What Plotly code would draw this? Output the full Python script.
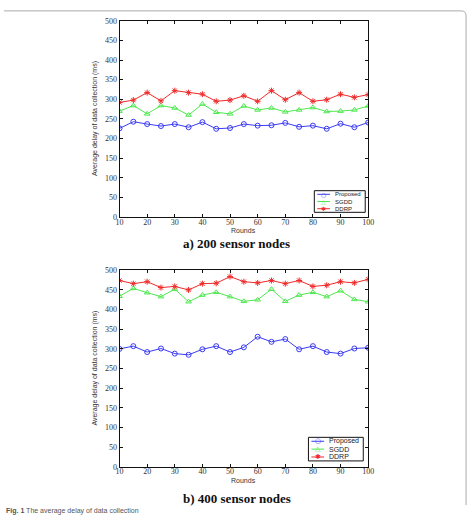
import plotly.graph_objects as go

rounds = [10, 15, 20, 25, 30, 35, 40, 45, 50, 55, 60, 65, 70, 75, 80, 85, 90, 95, 100]

# a) 200 sensor nodes
prop_200 = [226, 243, 237, 232, 237, 229, 242, 225, 227, 237, 233, 234, 240, 230, 233, 225, 238, 229, 241]
sgdd_200 = [270, 284, 263, 284, 278, 260, 288, 267, 263, 283, 273, 278, 268, 273, 279, 269, 270, 273, 283]
ddrp_200 = [292, 298, 317, 296, 322, 317, 313, 295, 298, 309, 295, 322, 299, 317, 295, 299, 313, 305, 312]

# b) 400 sensor nodes
prop_400 = [300, 307, 292, 301, 288, 285, 299, 307, 292, 304, 331, 318, 325, 299, 307, 292, 288, 301, 303]
sgdd_400 = [434, 454, 443, 433, 452, 420, 437, 444, 433, 421, 425, 452, 421, 437, 444, 433, 448, 426, 420]
ddrp_400 = [474, 466, 471, 456, 459, 450, 466, 467, 484, 471, 468, 474, 466, 474, 459, 462, 471, 468, 477]

series_names = ["Proposed", "SGDD", "DDRP"]
x_ticks = [10, 20, 30, 40, 50, 60, 70, 80, 90, 100]
y_ticks = [0, 50, 100, 150, 200, 250, 300, 350, 400, 450, 500]
captions = ["a) 200 sensor nodes", "b) 400 sensor nodes"]
y_title = "Average delay of data collection (ms)"
x_title = "Rounds"

W, H = 475, 518
BLUE = "#3b3bf5"
GREEN = "#4ee84e"
RED = "#f02a2a"
colors = [BLUE, GREEN, RED]
key_glyphs = ["○", "△", "✱"]

def px(x):
    return x / W

def py(y):
    return 1 - y / H

fig = go.Figure()

styles = [
    dict(symbol="circle-open", size=5),
    dict(symbol="triangle-up-open", size=5),
    dict(symbol="asterisk-open", size=5),
]

for data, xa, ya in [
    ([prop_200, sgdd_200, ddrp_200], "x", "y"),
    ([prop_400, sgdd_400, ddrp_400], "x2", "y2"),
]:
    for name, vals, st, c in zip(series_names, data, styles, colors):
        fig.add_trace(go.Scatter(
            x=rounds, y=vals, name=name, mode="lines+markers",
            xaxis=xa, yaxis=ya, showlegend=False,
            line=dict(color=c, width=1),
            marker=dict(symbol=st["symbol"], size=st["size"], color=c,
                        line=dict(color=c, width=1)),
        ))

tick_font = dict(family="Liberation Serif", size=8, color="#333")
axis_common = dict(
    showline=True, linecolor="#111", linewidth=1, mirror="ticks",
    ticks="inside", ticklen=3, tickcolor="#111", tickwidth=1,
    showgrid=False, zeroline=False, tickfont=tick_font,
)

x_dom = [px(118), px(372)]
fig.update_layout(
    width=W, height=H,
    margin=dict(l=0, r=0, t=0, b=0),
    paper_bgcolor="white", plot_bgcolor="white",
    xaxis=dict(domain=x_dom, range=[10, 100], tickvals=x_ticks, anchor="y", **axis_common),
    yaxis=dict(domain=[py(217), py(17)], range=[0, 500], tickvals=y_ticks, anchor="x", **axis_common),
    xaxis2=dict(domain=x_dom, range=[10, 100], tickvals=x_ticks, anchor="y2", **axis_common),
    yaxis2=dict(domain=[py(471), py(271)], range=[0, 500], tickvals=y_ticks, anchor="x2", **axis_common),
    showlegend=False,
)
try:
    fig.update_layout(xaxis_ticklabelstandoff=-3, xaxis2_ticklabelstandoff=-3)
except Exception:
    pass

ann = []
shapes = []
for cy, ty, cap, capy in [(117, 230, captions[0], 244), (371, 485, captions[1], 503)]:
    ann.append(dict(text=y_title, x=px(93), y=py(cy), xref="paper", yref="paper",
                    xanchor="center", yanchor="middle",
                    textangle=-90, showarrow=False,
                    font=dict(family="Liberation Sans", size=7, color="#333")))
    ann.append(dict(text=x_title, x=px(245), y=py(ty), xref="paper", yref="paper",
                    xanchor="center", yanchor="middle", showarrow=False,
                    font=dict(family="Liberation Sans", size=7, color="#333")))
    ann.append(dict(text="<b>" + cap + "</b>", x=px(238), y=py(capy), xref="paper", yref="paper",
                    xanchor="center", yanchor="middle", showarrow=False,
                    font=dict(family="Liberation Serif", size=13, color="#111")))
ann.append(dict(text="<b>Fig. 1</b> The average delay of data collection", x=0, y=py(516),
                xref="paper", yref="paper", xanchor="left", yanchor="middle", showarrow=False,
                font=dict(family="Liberation Sans", size=7, color="#555")))

# compact legends (box, key lines, key glyphs, labels)
for (x0, y0, x1, y1, fs) in [(317, 190, 369, 212, 6), (311, 441, 367, 465, 7)]:
    shapes.append(dict(type="rect", xref="paper", yref="paper",
                       x0=px(x0), x1=px(x1), y0=py(y0), y1=py(y1),
                       line=dict(color="#111", width=1), fillcolor="white", layer="above"))
    step = (y1 - y0) / 3
    for k, (name, c, g) in enumerate(zip(series_names, colors, key_glyphs)):
        yy = y0 + step * (k + 0.5)
        lx0, lx1 = x0 + 3, x0 + 16
        shapes.append(dict(type="line", xref="paper", yref="paper",
                           x0=px(lx0), x1=px(lx1), y0=py(yy), y1=py(yy),
                           line=dict(color=c, width=1), layer="above"))
        ann.append(dict(text=g, x=px((lx0 + lx1) / 2), y=py(yy), xref="paper", yref="paper",
                        xanchor="center", yanchor="middle", showarrow=False,
                        font=dict(family="DejaVu Sans", size=fs, color=c)))
        ann.append(dict(text=name, x=px(lx1 + 3), y=py(yy), xref="paper", yref="paper",
                        xanchor="left", yanchor="middle", showarrow=False,
                        font=dict(family="Liberation Sans", size=fs, color="#222")))

# frame border (top edge and right edge only, with rounded corner)
r = 5
path = (f"M 0,{py(7)} L {px(472 - r)},{py(7)} Q {px(472)},{py(7)} {px(472)},{py(7 + r)} "
        f"L {px(472)},{py(510)}")
shapes.append(dict(type="path", path=path, xref="paper", yref="paper",
                   line=dict(color="#aaa", width=1)))

fig.update_layout(annotations=ann, shapes=shapes)

fig.write_html("out.html")
